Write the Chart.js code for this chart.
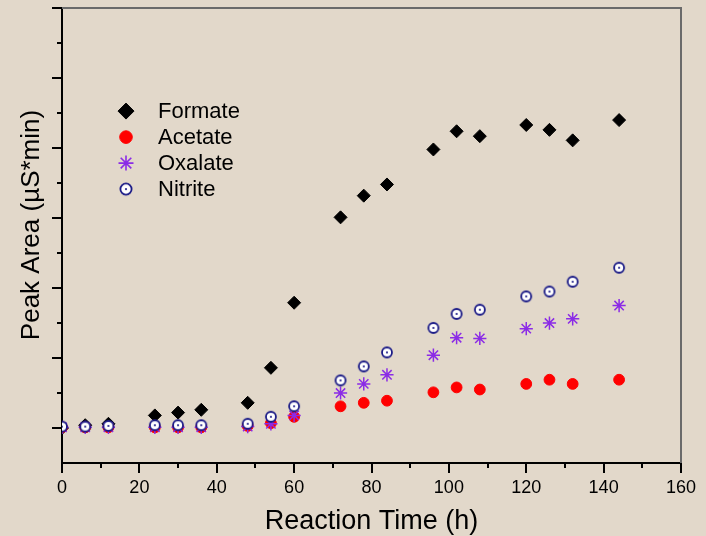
<!DOCTYPE html>
<html lang="en">
<head>
    <meta charset="UTF-8">
    <title>Peak Area vs Reaction Time</title>
    <script src="https://cdn.jsdelivr.net/npm/chart.js"></script>
    <style>
        html, body {
            margin: 0;
            padding: 0;
            background-color: #e2d8ca;
        }
        #myChart {
            display: block;
        }
    </style>
</head>
<body>
    <canvas id="myChart" width="706" height="536"></canvas>
    <script>
        // reaction times (h) and peak areas for each anion
        const times = [0, 6, 12, 24, 30, 36, 48, 54, 60, 72, 78, 84, 96, 102, 108, 120, 126, 132, 144];
        const formate = [0, 0.04, 0.06, 0.18, 0.22, 0.26, 0.36, 0.86, 1.79, 3.01, 3.32, 3.48, 3.98, 4.24, 4.17, 4.33, 4.26, 4.11, 4.40];
        const acetate = [0.01, 0.01, 0.01, 0.01, 0.01, 0.01, 0.03, 0.07, 0.16, 0.31, 0.36, 0.39, 0.51, 0.58, 0.55, 0.63, 0.69, 0.63, 0.69];
        const oxalate = [0.01, 0.01, 0.01, 0.01, 0.01, 0.01, 0.02, 0.06, 0.18, 0.50, 0.63, 0.76, 1.04, 1.29, 1.28, 1.42, 1.50, 1.56, 1.75];
        const nitrite = [0.02, 0.02, 0.03, 0.04, 0.04, 0.04, 0.06, 0.16, 0.31, 0.68, 0.88, 1.08, 1.43, 1.63, 1.69, 1.88, 1.95, 2.09, 2.29];

        const FONT = '"Liberation Sans", Arial, sans-serif';

        function toPoints(values) {
            return times.map((t, i) => ({ x: t, y: values[i] }));
        }

        // open circle with a dot in the middle
        function makeDotCircle(r) {
            const size = Math.ceil(r * 2 + 4);
            const m = size / 2;
            const c = document.createElement('canvas');
            c.width = size;
            c.height = size;
            const g = c.getContext('2d');
            g.beginPath();
            g.arc(m, m, r, 0, Math.PI * 2);
            g.fillStyle = '#ffffff';
            g.fill();
            g.lineWidth = 1.8;
            g.strokeStyle = '#1a1a86';
            g.stroke();
            g.beginPath();
            g.arc(m, m, 1.1, 0, Math.PI * 2);
            g.fillStyle = '#1a1a86';
            g.fill();
            return c;
        }

        const series = [
            { label: 'Formate', data: formate, style: 'rectRot', legendStyle: 'rectRot', radius: 6.5, legendRadius: 8, color: '#000000', order: 4 },
            { label: 'Acetate', data: acetate, style: 'circle', legendStyle: 'circle', radius: 5.4, legendRadius: 6.3, color: '#ff0000', order: 3 },
            { label: 'Oxalate', data: oxalate, style: 'star', legendStyle: 'star', radius: 6.6, legendRadius: 7.5, color: '#8b2be6', order: 2 },
            { label: 'Nitrite', data: nitrite, style: makeDotCircle(5), legendStyle: makeDotCircle(5.6), radius: 7, legendRadius: 7, color: '#1a1a86', order: 1 }
        ];

        // frame, tick marks, y title and legend
        const decorations = {
            id: 'decorations',
            afterDraw(chart) {
                const ctx = chart.ctx;
                const area = chart.chartArea;
                const xs = chart.scales.x;
                const ys = chart.scales.y;
                ctx.save();

                ctx.strokeStyle = '#6a6a6a';
                ctx.lineWidth = 2;
                ctx.beginPath();
                ctx.moveTo(area.left, area.top);
                ctx.lineTo(area.right, area.top);
                ctx.lineTo(area.right, area.bottom);
                ctx.stroke();

                ctx.strokeStyle = '#000000';
                ctx.lineWidth = 2;
                ctx.beginPath();
                for (let v = 0; v <= 160; v += 10) {
                    const px = Math.round(xs.getPixelForValue(v));
                    const len = v % 20 === 0 ? 10 : 5;
                    ctx.moveTo(px, area.bottom);
                    ctx.lineTo(px, area.bottom + len);
                }
                for (let v = 0; v <= 6; v += 0.5) {
                    const py = Math.round(ys.getPixelForValue(v));
                    const len = v % 1 === 0 ? 10 : 5;
                    ctx.moveTo(area.left, py);
                    ctx.lineTo(area.left - len, py);
                }
                ctx.stroke();

                ctx.fillStyle = '#000000';
                ctx.font = '26px ' + FONT;
                ctx.textAlign = 'center';
                ctx.textBaseline = 'middle';
                ctx.translate(32, 225);
                ctx.rotate(-Math.PI / 2);
                ctx.fillText('Peak Area (\u00b5S*min)', 0, 0);
                ctx.restore();

                ctx.save();
                ctx.font = '22px ' + FONT;
                ctx.textAlign = 'left';
                ctx.textBaseline = 'middle';
                series.forEach((s, i) => {
                    const mx = area.left + 64;
                    const my = area.top + 103 + i * 26;
                    ctx.fillStyle = s.color;
                    ctx.strokeStyle = s.color;
                    ctx.lineWidth = s.style === 'star' ? 1.6 : 1;
                    Chart.helpers.drawPoint(ctx, { pointStyle: s.legendStyle, radius: s.legendRadius, borderWidth: ctx.lineWidth, rotation: 0 }, mx, my);
                    ctx.fillStyle = '#000000';
                    ctx.fillText(s.label, area.left + 96, my + 1);
                });
                ctx.restore();
            }
        };

        const ctx = document.getElementById('myChart').getContext('2d');
        const myChart = new Chart(ctx, {
            type: 'scatter',
            data: {
                datasets: series.map(s => ({
                    label: s.label,
                    data: toPoints(s.data),
                    pointStyle: s.style,
                    pointRadius: s.radius,
                    pointHoverRadius: s.radius,
                    backgroundColor: s.color,
                    borderColor: s.color,
                    borderWidth: s.style === 'star' ? 1.5 : 1,
                    order: s.order
                }))
            },
            options: {
                responsive: false,
                animation: false,
                devicePixelRatio: 1,
                layout: {
                    padding: { left: 0, right: 25, top: 7, bottom: 0 }
                },
                plugins: {
                    legend: { display: false },
                    tooltip: { enabled: false }
                },
                scales: {
                    x: {
                        type: 'linear',
                        min: 0,
                        max: 160,
                        grid: { display: false, drawTicks: false },
                        border: { display: true, color: '#000000', width: 2 },
                        ticks: {
                            stepSize: 20,
                            padding: 14,
                            color: '#000000',
                            font: { family: FONT, size: 18 }
                        },
                        title: {
                            display: true,
                            text: 'Reaction Time (h)',
                            color: '#000000',
                            font: { family: FONT, size: 27 },
                            padding: { top: 0, bottom: -2 }
                        },
                        afterFit(scale) {
                            scale.height = 73;
                            scale.paddingLeft = 0;
                            scale.paddingRight = 0;
                        }
                    },
                    y: {
                        type: 'linear',
                        min: -0.5,
                        max: 6,
                        grid: { display: false, drawTicks: false },
                        border: { display: true, color: '#000000', width: 2 },
                        ticks: { display: false, stepSize: 1 },
                        afterFit(scale) {
                            scale.width = 62;
                        }
                    }
                }
            },
            plugins: [decorations]
        });
    </script>
</body>
</html>
